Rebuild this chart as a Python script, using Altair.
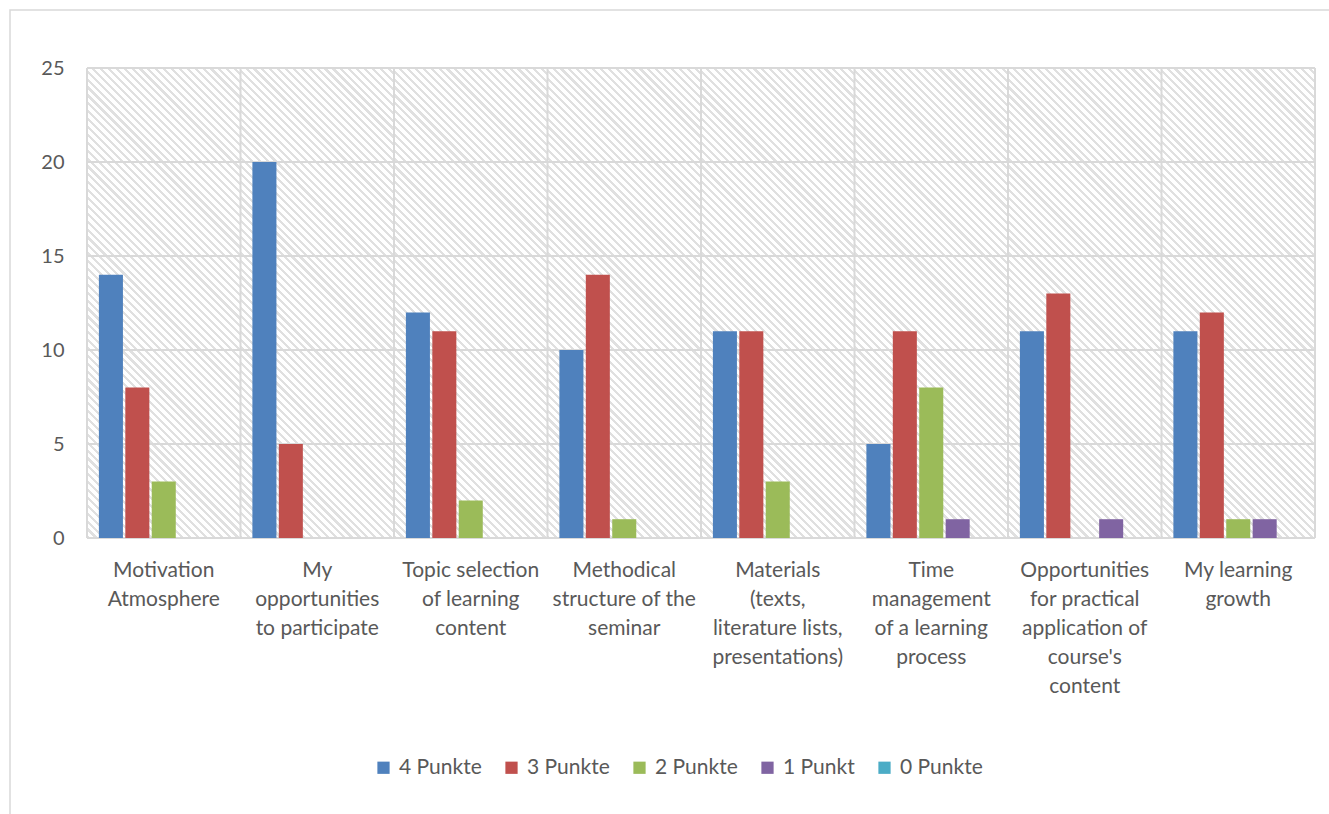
import math
import altair as alt
import pandas as pd

# ---------------- data ----------------
categories = [
    "Motivation|Atmosphere",
    "My|opportunities|to participate",
    "Topic selection|of learning|content",
    "Methodical|structure of the|seminar",
    "Materials|(texts,|literature lists,|presentations)",
    "Time|management|of a learning|process",
    "Opportunities|for practical|application of|course's|content",
    "My learning|growth",
]
series = ["4 Punkte", "3 Punkte", "2 Punkte", "1 Punkt", "0 Punkte"]
colors = ["#4F81BD", "#C0504D", "#9BBB59", "#8064A2", "#4BACC6"]

v4 = [14, 20, 12, 10, 11, 5, 11, 11]
v3 = [8, 5, 11, 14, 11, 11, 13, 12]
v2 = [3, 0, 2, 1, 3, 8, 0, 1]
v1 = [0, 0, 0, 0, 0, 1, 1, 1]
v0 = [0, 0, 0, 0, 0, 0, 0, 0]
y_ticks = [0, 5, 10, 15, 20, 25]

rows = []
for s, vals in zip(series, [v4, v3, v2, v1, v0]):
    for c, v in zip(categories, vals):
        rows.append({"cat": c, "series": s, "value": v})
df = pd.DataFrame(rows)

W, H = 1228, 470
GRID = "#d9d9d9"
TXT = "#595959"
FONT = "Lato"

# ------------- hatch gradient (background style) -------------
bw = W / len(categories)
s = (bw + H) / (bw * bw + H * H)
gx2 = bw * s
gy2 = 1 - H * s
dist = (bw + H) / math.sqrt(2)
n = int(round(dist / 5.6))
HATCH = "#e0e0e0"
stops = []
for k in range(n):
    t0 = k / n
    t1 = (k + 0.4) / n
    t2 = (k + 1) / n
    stops += [
        alt.GradientStop(offset=t0, color=HATCH),
        alt.GradientStop(offset=t1, color=HATCH),
        alt.GradientStop(offset=t1, color="#ffffff"),
        alt.GradientStop(offset=t2, color="#ffffff"),
    ]
hatch_grad = alt.LinearGradient(gradient="linear", stops=stops, x1=0, y1=1, x2=gx2, y2=gy2)

xsc = alt.Scale(domain=categories, paddingInner=0, paddingOuter=0)
ysc = alt.Scale(domain=[0, 25], nice=False)

hatch_df = pd.DataFrame({"cat": categories, "top": [25] * len(categories), "bottom": [0] * len(categories)})

hatch = alt.Chart(hatch_df).mark_rect(color=hatch_grad).encode(
    x=alt.X("cat:N", scale=xsc, title=None),
    y=alt.Y("top:Q", scale=ysc, title=None),
    y2="bottom:Q",
)

vgrid = alt.Chart(pd.DataFrame({"cat": categories})).mark_rule(color=GRID, strokeWidth=2).encode(
    x=alt.X("cat:N", scale=xsc, bandPosition=0, title=None),
)
vgrid_end = alt.Chart(pd.DataFrame({"cat": categories[-1:]})).mark_rule(color=GRID, strokeWidth=2).encode(
    x=alt.X("cat:N", scale=xsc, bandPosition=1, title=None),
)
hgrid = alt.Chart(pd.DataFrame({"v": y_ticks})).mark_rule(color=GRID, strokeWidth=2).encode(
    y=alt.Y("v:Q", scale=ysc, title=None),
)

bars = alt.Chart(df).mark_bar().encode(
    x=alt.X(
        "cat:N",
        scale=xsc,
        title=None,
        axis=alt.Axis(
            labelExpr="split(datum.label, '|')",
            labelAngle=0,
            labelAlign="center",
            labelPadding=21,
            labelLineHeight=29,
            labelBaseline="top",
            labelFontSize=21,
            labelLimit=300,
        ),
    ),
    xOffset=alt.XOffset("series:N", sort=series, scale=alt.Scale(paddingInner=0.09, paddingOuter=0.45)),
    y=alt.Y(
        "value:Q",
        scale=ysc,
        title=None,
        axis=alt.Axis(values=y_ticks, labelPadding=23, labelFontSize=20),
    ),
    color=alt.Color(
        "series:N",
        sort=series,
        scale=alt.Scale(domain=series, range=colors),
        title=None,
        legend=alt.Legend(
            orient="none",
            direction="horizontal",
            legendX=286,
            legendY=689,
            symbolType="square",
            symbolSize=150,
            symbolStrokeWidth=0,
            labelOffset=5,
            columnPadding=19,
            labelFontSize=21,
            labelFont=FONT,
            labelColor=TXT,
        ),
    ),
)

border = alt.Chart(alt.Data(values=[{}])).mark_rect(
    fillOpacity=0, stroke=GRID, strokeWidth=1.5
).encode(
    x=alt.value(-77), x2=alt.value(W + 40), y=alt.value(-58), y2=alt.value(H + 320)
)

chart = alt.layer(border, hatch, vgrid, vgrid_end, hgrid, bars).properties(
    width=W,
    height=H,
    padding={"left": 87, "top": 68, "right": 14, "bottom": 276},
    autosize=alt.AutoSizeParams(type="none"),
    background="white",
).configure_view(
    stroke=None
).configure_axis(
    grid=False,
    ticks=False,
    domain=False,
    labelFont=FONT,
    labelFontSize=19,
    labelColor=TXT,
)

chart.save("out.html", embed_options={"renderer": "svg", "actions": False})
